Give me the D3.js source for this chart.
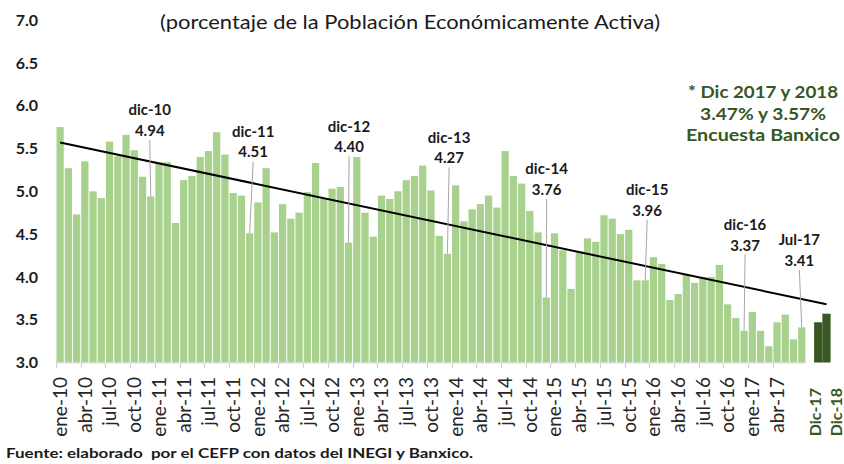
<!DOCTYPE html>
<html>
<head>
<meta charset="utf-8">
<script src="https://cdn.jsdelivr.net/npm/d3@7"></script>
<style>
  html, body { margin: 0; padding: 0; background: #fff; }
  svg { display: block; }
</style>
</head>
<body>
<svg id="chart" width="844" height="464"></svg>
<script>
// ---------------- DATA ----------------
const monthNames = ["ene","feb","mar","abr","may","jun","jul","ago","sep","oct","nov","dic"];
const years = ["10","11","12","13","14","15","16","17"];

// Tasa de desocupación mensual, ene-10 ... jul-17
const monthlyValues = [
  // 2010
  5.75, 5.27, 4.73, 5.35, 5.00, 4.92, 5.58, 5.41, 5.66, 5.48, 5.17, 4.94,
  // 2011
  5.34, 5.34, 4.63, 5.13, 5.18, 5.40, 5.47, 5.69, 5.43, 4.98, 4.95, 4.51,
  // 2012
  4.87, 5.27, 4.52, 4.85, 4.68, 4.75, 4.99, 5.33, 4.91, 5.03, 5.05, 4.40,
  // 2013
  5.40, 4.75, 4.47, 4.95, 4.91, 5.00, 5.13, 5.18, 5.30, 5.01, 4.48, 4.27,
  // 2014
  5.07, 4.65, 4.79, 4.85, 4.95, 4.81, 5.47, 5.18, 5.09, 4.77, 4.52, 3.76,
  // 2015
  4.51, 4.31, 3.86, 4.30, 4.45, 4.41, 4.72, 4.68, 4.50, 4.55, 3.96, 3.96,
  // 2016
  4.23, 4.15, 3.73, 3.80, 4.03, 3.93, 4.00, 4.00, 4.14, 3.68, 3.52, 3.37,
  // 2017
  3.59, 3.37, 3.19, 3.47, 3.56, 3.27, 3.41
];

// Encuesta Banxico (pronóstico)
const forecastCategories = ["Dic-17", "Dic-18"];
const forecastValues = [3.47, 3.57];

// Línea de tendencia (extremos)
const trendStart = { cat: "ene-10", value: 5.57 };
const trendEnd = { cat: "Dic-18", value: 3.68 };

const yTicks = [3.0, 3.5, 4.0, 4.5, 5.0, 5.5, 6.0, 6.5, 7.0];
const lastTickLabel = "abr-17";

const annotations = [
  { cat: "dic-10", label: "dic-10", value: "4.94" },
  { cat: "dic-11", label: "dic-11", value: "4.51" },
  { cat: "dic-12", label: "dic-12", value: "4.40" },
  { cat: "dic-13", label: "dic-13", value: "4.27" },
  { cat: "dic-14", label: "dic-14", value: "3.76" },
  { cat: "dic-15", label: "dic-15", value: "3.96" },
  { cat: "dic-16", label: "dic-16", value: "3.37" },
  { cat: "jul-17", label: "Jul-17", value: "3.41" }
];

const titleText = "(porcentaje de la Población Económicamente Activa)";
const legendLines = ["* Dic 2017 y 2018", "3.47% y 3.57%", "Encuesta Banxico"];
const sourceText = "Fuente: elaborado  por el CEFP con datos del INEGI y Banxico.";

// ---------------- BUILD ----------------
const monthCategories = [];
years.forEach(y => monthNames.forEach(m => monthCategories.push(m + "-" + y)));
monthCategories.length = monthlyValues.length; // through jul-17

const gapKey = "__gap__";
const allCategories = monthCategories.concat([gapKey], forecastCategories);
const lastTickIdx = monthCategories.indexOf(lastTickLabel);
const tickCategories = monthCategories.filter((d, i) => i % 3 === 0 && i <= lastTickIdx);

const monthly = monthCategories.map((c, i) => ({ cat: c, value: monthlyValues[i] }));
const forecast = forecastCategories.map((c, i) => ({ cat: c, value: forecastValues[i] }));

// ---------------- LAYOUT / STYLE ----------------
const lightGreen = "#a9d18e";
const darkGreen = "#385723";
const fontFamily = "Lato, 'Open Sans', 'Noto Sans', sans-serif";

// annotation label placement (height of first text line in data units, x nudge in px)
const annotationLayout = {
  "dic-10": { at: 5.95, dx: -1 },
  "dic-11": { at: 5.70, dx: 3.5 },
  "dic-12": { at: 5.76, dx: 0.5 },
  "dic-13": { at: 5.63, dx: 1.7 },
  "dic-14": { at: 5.26, dx: 0.3 },
  "dic-15": { at: 5.02, dx: 2 },
  "dic-16": { at: 4.61, dx: 1 },
  "jul-17": { at: 4.43, dx: -2.4 }
};

const svg = d3.select("#chart");
svg.append("rect").attr("width", 844).attr("height", 464).attr("fill", "#fff");

const x = d3.scaleBand()
  .domain(allCategories)
  .range([56, 830.6])
  .paddingInner(0.12)
  .paddingOuter(0.06);

const y = d3.scaleLinear().domain([3, 7]).range([362.5, 20.1]);

const cx = c => x(c) + x.bandwidth() / 2;

// Bars
svg.append("g").selectAll("rect")
  .data(monthly)
  .join("rect")
  .attr("x", d => x(d.cat))
  .attr("width", x.bandwidth())
  .attr("y", d => y(d.value))
  .attr("height", d => y(3) - y(d.value))
  .attr("fill", lightGreen);

svg.append("g").selectAll("rect")
  .data(forecast)
  .join("rect")
  .attr("x", d => x(d.cat) - 0.5)
  .attr("width", x.bandwidth() + 1)
  .attr("y", d => y(d.value))
  .attr("height", d => y(3) - y(d.value))
  .attr("fill", darkGreen);

// X axis line & ticks
const axisG = svg.append("g");
axisG.append("line")
  .attr("x1", x.range()[0]).attr("x2", x(monthCategories[monthCategories.length - 1]) + x.step())
  .attr("y1", y(3) + 0.5).attr("y2", y(3) + 0.5)
  .attr("stroke", "#d9d9d9").attr("stroke-width", 1);
axisG.selectAll("line.tick")
  .data(tickCategories)
  .join("line")
  .attr("class", "tick")
  .attr("x1", d => Math.round(x(d) - x.step() * 0.06) + 0.5)
  .attr("x2", d => Math.round(x(d) - x.step() * 0.06) + 0.5)
  .attr("y1", y(3))
  .attr("y2", y(3) + 6)
  .attr("stroke", "#d0d0d0").attr("stroke-width", 1);

// X labels (rotated)
axisG.selectAll("text.xl")
  .data(tickCategories)
  .join("text")
  .attr("class", "xl")
  .attr("transform", d => `translate(${cx(d)},377) rotate(-90)`)
  .attr("dy", "0.36em")
  .attr("text-anchor", "end")
  .attr("font-family", fontFamily)
  .attr("font-size", 19)
  .attr("fill", "#262626")
  .text(d => d);

const forecastLabelNudge = { "Dic-17": -3.5, "Dic-18": 9.5 };
axisG.selectAll("text.fl")
  .data(forecastCategories)
  .join("text")
  .attr("class", "fl")
  .attr("transform", d => `translate(${cx(d) + forecastLabelNudge[d]},388) rotate(-90)`)
  .attr("dy", "0.36em")
  .attr("text-anchor", "end")
  .attr("font-family", fontFamily)
  .attr("font-size", 16)
  .attr("font-weight", "bold")
  .attr("fill", darkGreen)
  .text(d => d);

// Y labels
svg.append("g").selectAll("text")
  .data(yTicks)
  .join("text")
  .attr("x", 38)
  .attr("y", d => y(d))
  .attr("dy", "0.36em")
  .attr("text-anchor", "end")
  .attr("font-family", fontFamily)
  .attr("font-size", 16)
  .attr("font-weight", "bold")
  .attr("fill", "#1a1a1a")
  .text(d => d.toFixed(1));

// Trend line
svg.append("line")
  .attr("x1", cx(trendStart.cat)).attr("y1", y(trendStart.value))
  .attr("x2", cx(trendEnd.cat)).attr("y2", y(trendEnd.value))
  .attr("stroke", "#000").attr("stroke-width", 2);

// Annotations
const valueByCat = new Map(monthly.map(d => [d.cat, d.value]));
const annG = svg.append("g");
annotations.forEach(a => {
  const lay = annotationLayout[a.cat];
  const lx = cx(a.cat) + lay.dx;
  const ly = y(lay.at);
  annG.append("line")
    .attr("x1", lx).attr("y1", ly + 30)
    .attr("x2", cx(a.cat)).attr("y2", y(valueByCat.get(a.cat)))
    .attr("stroke", "#a6a6a6").attr("stroke-width", 1);
  annG.append("text")
    .attr("x", lx).attr("y", ly).attr("dy", "0.36em")
    .attr("text-anchor", "middle")
    .attr("font-family", fontFamily).attr("font-size", 15).attr("font-weight", "bold")
    .attr("fill", "#1a1a1a")
    .text(a.label);
  annG.append("text")
    .attr("x", lx).attr("y", ly + 20.7).attr("dy", "0.36em")
    .attr("text-anchor", "middle")
    .attr("font-family", fontFamily).attr("font-size", 15).attr("font-weight", "bold")
    .attr("fill", "#1a1a1a")
    .text(a.value);
});

// Title
svg.append("text")
  .attr("x", 410).attr("y", 22).attr("dy", "0.36em")
  .attr("text-anchor", "middle")
  .attr("font-family", fontFamily).attr("font-size", 20)
  .attr("fill", "#1a1a1a")
  .attr("textLength", 500).attr("lengthAdjust", "spacingAndGlyphs")
  .text(titleText);

// Legend note
const legendWidths = [150, 126, 154];
const legendY = [92, 113.5, 135];
svg.append("g").selectAll("text")
  .data(legendLines)
  .join("text")
  .attr("x", 763)
  .attr("y", (d, i) => legendY[i])
  .attr("dy", "0.36em")
  .attr("text-anchor", "middle")
  .attr("font-family", fontFamily).attr("font-size", 17).attr("font-weight", "bold")
  .attr("fill", darkGreen)
  .attr("textLength", (d, i) => legendWidths[i]).attr("lengthAdjust", "spacingAndGlyphs")
  .text(d => d);

// Source
svg.append("text")
  .attr("x", 6).attr("y", 458)
  .attr("font-family", fontFamily).attr("font-size", 13).attr("font-weight", "bold")
  .attr("fill", "#1a1a1a")
  .style("white-space", "pre")
  .attr("textLength", 467).attr("lengthAdjust", "spacingAndGlyphs")
  .text(sourceText);
</script>
</body>
</html>
